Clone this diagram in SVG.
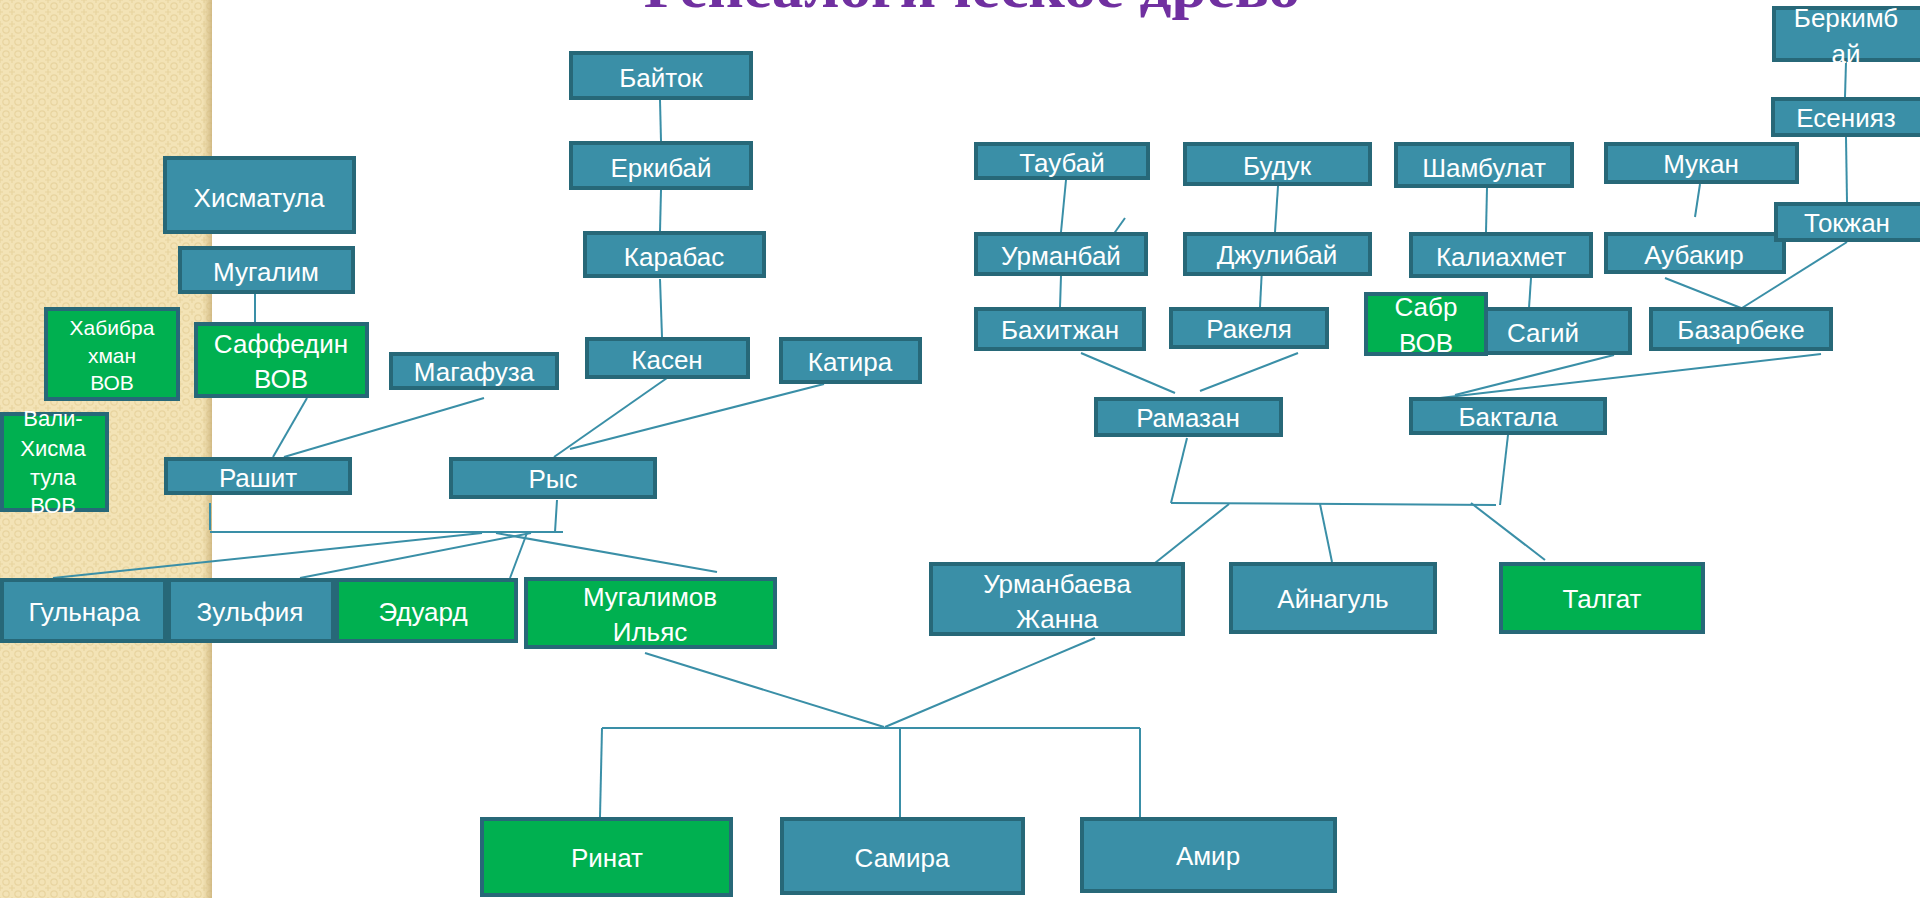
<svg xmlns="http://www.w3.org/2000/svg" width="1920" height="898" viewBox="0 0 1920 898">
<defs>
<style>
.t{fill:#3A8FA7;stroke:#276878;stroke-width:4}
.g{fill:#00B050;stroke:#276878;stroke-width:4}
text{font-family:"Liberation Sans",Arial,sans-serif;fill:#FFFFFF;text-anchor:middle;font-size:26px}
.s21{font-size:21px}
.s22{font-size:22px}
#connectors line{stroke:#3A8FA7;stroke-width:2;fill:none}
</style>
<pattern id="weave" width="12" height="12" patternUnits="userSpaceOnUse">
<rect width="12" height="12" fill="#F3E3B6"/>
<circle cx="6" cy="6" r="3.2" fill="none" stroke="#E8D49F" stroke-width="1.2"/>
<path d="M0 0H3M9 0H12M0 12H3M9 12H12M0 0V3M0 9V12M12 0V3M12 9V12" stroke="#E8D49F" stroke-width="1.2"/>
</pattern>
<linearGradient id="shade" x1="0" y1="0" x2="1" y2="0">
<stop offset="0" stop-color="#D9C28A" stop-opacity="0"/>
<stop offset="1" stop-color="#C9B078" stop-opacity="0.8"/>
</linearGradient>
</defs>
<rect width="1920" height="898" fill="#FFFFFF"/>
<rect x="0" y="0" width="212" height="898" fill="url(#weave)"/>
<rect x="202" y="0" width="10" height="898" fill="url(#shade)"/>
<text x="972" y="7" font-family="Liberation Serif" style="font-family:'Liberation Serif',serif;font-weight:bold;font-size:60px;fill:#7030A0" textLength="656" lengthAdjust="spacingAndGlyphs">Генеалогическое древо</text>

<g id="connectors">
<line x1="660" y1="100" x2="661" y2="141"/>
<line x1="661" y1="190" x2="660" y2="231"/>
<line x1="660" y1="279" x2="662" y2="337"/>
<line x1="667" y1="378" x2="554" y2="457"/>
<line x1="824" y1="384" x2="570" y2="449"/>
<line x1="255" y1="294" x2="255" y2="322"/>
<line x1="307" y1="398" x2="273" y2="457"/>
<line x1="484" y1="398" x2="284" y2="457"/>
<line x1="210" y1="503" x2="210" y2="530"/>
<line x1="557" y1="500" x2="555" y2="532"/>
<line x1="210" y1="532" x2="563" y2="532"/>
<line x1="482" y1="533" x2="53" y2="578"/>
<line x1="531" y1="533" x2="300" y2="578"/>
<line x1="527" y1="533" x2="510" y2="578"/>
<line x1="496" y1="533" x2="717" y2="572"/>
<line x1="1066" y1="180" x2="1061" y2="232"/>
<line x1="1125" y1="218" x2="1113" y2="235"/>
<line x1="1061" y1="276" x2="1060" y2="307"/>
<line x1="1278" y1="186" x2="1275" y2="232"/>
<line x1="1262" y1="268" x2="1260" y2="307"/>
<line x1="1487" y1="188" x2="1486" y2="232"/>
<line x1="1531" y1="278" x2="1529" y2="308"/>
<line x1="1700" y1="184" x2="1695" y2="217"/>
<line x1="1846" y1="62" x2="1845" y2="97"/>
<line x1="1846" y1="137" x2="1847" y2="202"/>
<line x1="1847" y1="242" x2="1742" y2="308"/>
<line x1="1665" y1="278" x2="1741" y2="308"/>
<line x1="1081" y1="353" x2="1175" y2="393"/>
<line x1="1298" y1="353" x2="1200" y2="391"/>
<line x1="1614" y1="355" x2="1455" y2="395"/>
<line x1="1821" y1="354" x2="1440" y2="398"/>
<line x1="1187" y1="438" x2="1171" y2="503"/>
<line x1="1171" y1="503" x2="1496" y2="505"/>
<line x1="1508" y1="435" x2="1500" y2="505"/>
<line x1="1229" y1="504" x2="1155" y2="563"/>
<line x1="1320" y1="504" x2="1332" y2="562"/>
<line x1="1471" y1="503" x2="1545" y2="560"/>
<line x1="645" y1="653" x2="884" y2="727"/>
<line x1="1095" y1="638" x2="885" y2="727"/>
<line x1="602" y1="728" x2="1140" y2="728"/>
<line x1="602" y1="728" x2="600" y2="817"/>
<line x1="900" y1="728" x2="900" y2="817"/>
<line x1="1140" y1="728" x2="1140" y2="817"/>
</g>

<g id="n-hismatula"><rect class="t" x="165" y="158" width="189" height="74"/><text x="259" y="207">Хисматула</text></g>
<g id="n-mugalim"><rect class="t" x="180" y="248" width="173" height="44"/><text x="266" y="281">Мугалим</text></g>
<g id="n-habibrahman"><rect class="g" x="46" y="309" width="132" height="90"/><text class="s21" x="112" y="335">Хабибра</text><text class="s21" x="112" y="363">хман</text><text class="s21" x="112" y="390">ВОВ</text></g>
<g id="n-saffedin"><rect class="g" x="196" y="324" width="171" height="72"/><text x="281" y="353">Саффедин</text><text x="281" y="388">ВОВ</text></g>
<g id="n-vali"><rect class="g" x="2" y="414" width="105" height="96"/><text class="s22" x="53" y="426">Вали-</text><text class="s22" x="53" y="456">Хисма</text><text class="s22" x="53" y="485">тула</text><text class="s22" x="53" y="513">ВОВ</text></g>
<g id="n-magafuza"><rect class="t" x="391" y="354" width="166" height="34"/><text x="474" y="381">Магафуза</text></g>
<g id="n-rashit"><rect class="t" x="166" y="459" width="184" height="34"/><text x="258" y="487">Рашит</text></g>
<g id="n-rys"><rect class="t" x="451" y="459" width="204" height="38"/><text x="553" y="488">Рыс</text></g>
<g id="n-baitok"><rect class="t" x="571" y="53" width="180" height="45"/><text x="661" y="87">Байток</text></g>
<g id="n-erkibai"><rect class="t" x="571" y="143" width="180" height="45"/><text x="661" y="177">Еркибай</text></g>
<g id="n-karabas"><rect class="t" x="585" y="233" width="179" height="43"/><text x="674" y="266">Карабас</text></g>
<g id="n-kasen"><rect class="t" x="587" y="339" width="161" height="38"/><text x="667" y="369">Касен</text></g>
<g id="n-katira"><rect class="t" x="781" y="339" width="139" height="43"/><text x="850" y="371">Катира</text></g>
<g id="n-gulnara"><rect class="t" x="2" y="580" width="163" height="61"/><text x="84" y="621">Гульнара</text></g>
<g id="n-zulfiya"><rect class="t" x="169" y="580" width="164" height="61"/><text x="250" y="621">Зульфия</text></g>
<g id="n-eduard"><rect class="g" x="337" y="580" width="179" height="61"/><text x="423" y="621">Эдуард</text></g>
<g id="n-ilyas"><rect class="g" x="526" y="579" width="249" height="68"/><text x="650" y="606">Мугалимов</text><text x="650" y="641">Ильяс</text></g>
<g id="n-taubai"><rect class="t" x="976" y="144" width="172" height="34"/><text x="1062" y="172">Таубай</text></g>
<g id="n-buduk"><rect class="t" x="1185" y="144" width="185" height="40"/><text x="1277" y="175">Будук</text></g>
<g id="n-shambulat"><rect class="t" x="1396" y="144" width="176" height="42"/><text x="1484" y="177">Шамбулат</text></g>
<g id="n-mukan"><rect class="t" x="1606" y="144" width="191" height="38"/><text x="1701" y="173">Мукан</text></g>
<g id="n-berkimbai"><rect class="t" x="1774" y="8" width="150" height="52"/><text x="1846" y="27">Беркимб</text><text x="1846" y="63">ай</text></g>
<g id="n-esniyaz"><rect class="t" x="1773" y="99" width="151" height="36"/><text x="1846" y="127">Есенияз</text></g>
<g id="n-urmanbai"><rect class="t" x="976" y="234" width="170" height="40"/><text x="1061" y="265">Урманбай</text></g>
<g id="n-julibai"><rect class="t" x="1185" y="234" width="185" height="40"/><text x="1277" y="264">Джулибай</text></g>
<g id="n-kaliahmet"><rect class="t" x="1411" y="234" width="180" height="42"/><text x="1501" y="266">Калиахмет</text></g>
<g id="n-aubakir"><rect class="t" x="1606" y="234" width="178" height="38"/><text x="1694" y="264">Аубакир</text></g>
<g id="n-tokzhan"><rect class="t" x="1776" y="204" width="148" height="36"/><text x="1847" y="232">Токжан</text></g>
<g id="n-bahitzhan"><rect class="t" x="976" y="309" width="168" height="40"/><text x="1060" y="339">Бахитжан</text></g>
<g id="n-rakelya"><rect class="t" x="1171" y="309" width="156" height="38"/><text x="1249" y="338">Ракеля</text></g>
<g id="n-sagiy"><rect class="t" x="1457" y="309" width="173" height="44"/><text x="1543" y="342">Сагий</text></g>
<g id="n-sabr"><rect class="g" x="1366" y="294" width="120" height="60"/><text x="1426" y="316">Сабр</text><text x="1426" y="352">ВОВ</text></g>
<g id="n-bazarbeke"><rect class="t" x="1651" y="309" width="180" height="40"/><text x="1741" y="339">Базарбеке</text></g>
<g id="n-ramazan"><rect class="t" x="1096" y="399" width="185" height="36"/><text x="1188" y="427">Рамазан</text></g>
<g id="n-baktala"><rect class="t" x="1411" y="399" width="194" height="34"/><text x="1508" y="426">Бактала</text></g>
<g id="n-zhanna"><rect class="t" x="931" y="564" width="252" height="70"/><text x="1057" y="593">Урманбаева</text><text x="1057" y="628">Жанна</text></g>
<g id="n-ainagul"><rect class="t" x="1231" y="564" width="204" height="68"/><text x="1333" y="608">Айнагуль</text></g>
<g id="n-talgat"><rect class="g" x="1501" y="564" width="202" height="68"/><text x="1602" y="608">Талгат</text></g>
<g id="n-rinat"><rect class="g" x="482" y="819" width="249" height="76"/><text x="607" y="867">Ринат</text></g>
<g id="n-samira"><rect class="t" x="782" y="819" width="241" height="74"/><text x="902" y="867">Самира</text></g>
<g id="n-amir"><rect class="t" x="1082" y="819" width="253" height="72"/><text x="1208" y="865">Амир</text></g>
</svg>
